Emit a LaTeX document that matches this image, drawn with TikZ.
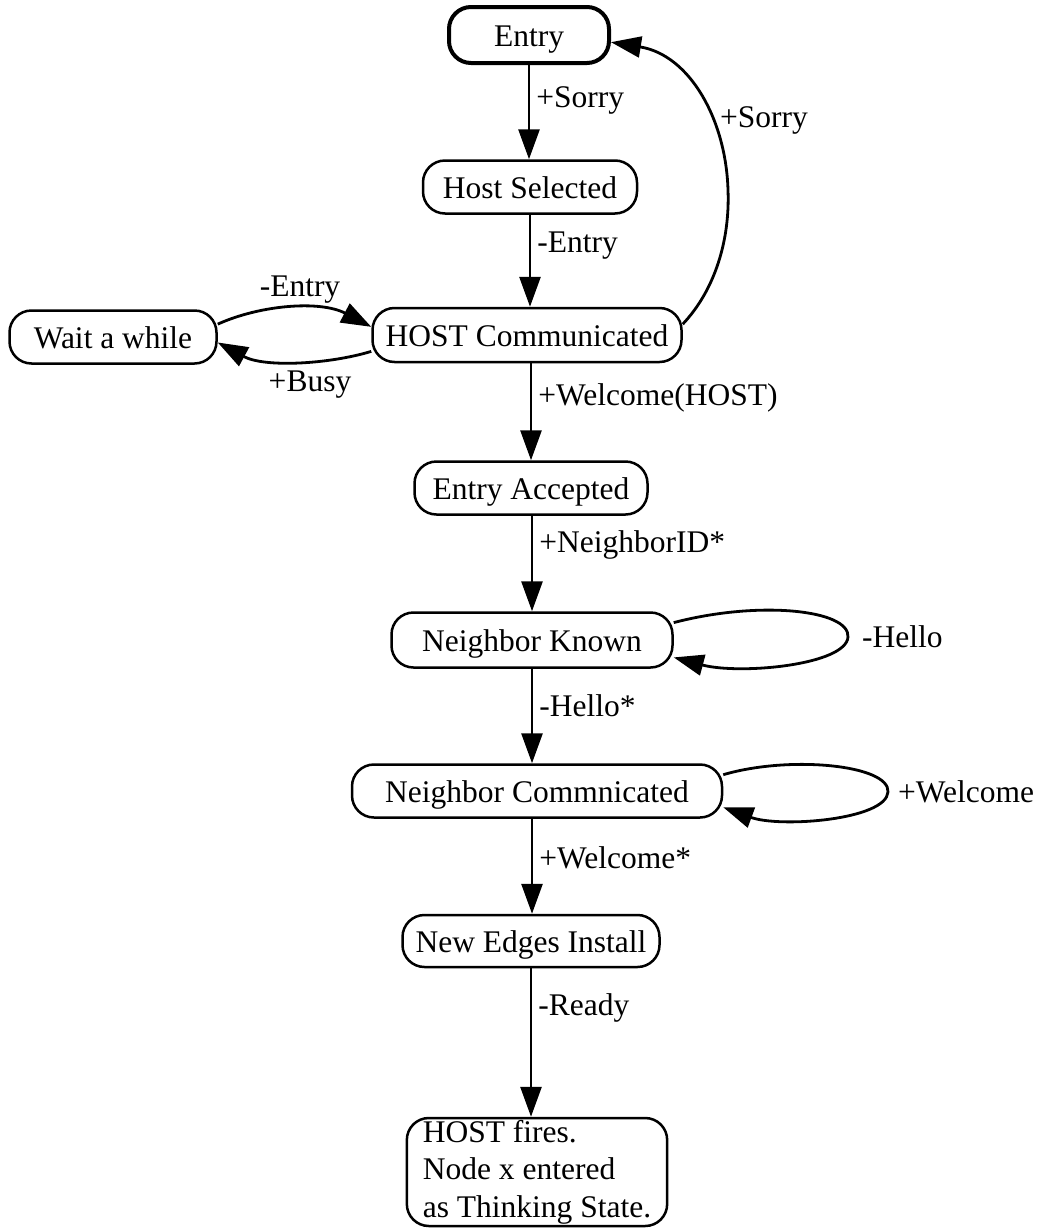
\documentclass[tikz,border=0pt]{standalone}
\usepackage{fontspec}
\setmainfont{Liberation Serif}
\usetikzlibrary{arrows.meta}

\tikzset{
  state/.style={draw, line width=2.5pt, rounded corners=22pt, inner sep=0pt,
    minimum height=54pt, text height=24pt, text depth=2pt,
    font=\fontsize{31.5}{37.5}\selectfont},
  arr/.style={line width=2.8pt, -{Triangle[length=30pt,width=21pt]}},
  lbl/.style={inner sep=0pt, font=\fontsize{31.5}{37.5}\selectfont},
  vlbl/.style={lbl, anchor=west, xshift=6pt}
}

\begin{document}
\begin{tikzpicture}[x=1pt, y=-1pt]
\path[use as bounding box] (0,0) rectangle (1047,1229);

% states
\node[state, line width=4pt, minimum width=160pt, minimum height=56pt] (entry) at (529,35) {Entry};
\node[state, minimum width=214pt, minimum height=53pt] (hostsel) at (530,187) {Host Selected};
\node[state, minimum width=309pt] (hostcomm) at (527,335) {HOST Communicated};
\node[state, minimum width=207pt, minimum height=53pt] (wait) at (113,337) {Wait a while};
\node[state, minimum width=233pt, minimum height=53pt] (accepted) at (531,488) {Entry Accepted};
\node[state, minimum width=281pt, minimum height=55pt] (nknown) at (532,640) {Neighbor Known};
\node[state, minimum width=370pt, minimum height=53pt] (ncomm) at (537,791) {Neighbor Commnicated};
\node[state, minimum width=257pt, minimum height=52pt] (newedges) at (531,941) {New Edges Install};
\node[draw, line width=2.5pt, rounded corners=22pt, font=\fontsize{31.5}{37.5}\selectfont,
  align=left, inner xsep=16pt, inner ysep=2pt, minimum height=108pt] (fires) at (537,1172)
  {HOST fires.\\Node x entered\\as Thinking State.};

% main column of transitions
\draw[arr] (entry.south) -- (entry.south |- hostsel.north)
  node[vlbl, pos=0.38] {+Sorry};
\draw[arr] (hostsel.south) -- (hostsel.south |- hostcomm.north)
  node[vlbl, pos=0.34] {-Entry};
\draw[arr] (hostcomm.south -| accepted.north) -- (accepted.north)
  node[vlbl, pos=0.36] {+Welcome(HOST)};
\draw[arr] (accepted.south -| nknown.north) -- (nknown.north)
  node[vlbl, pos=0.31] {+NeighborID*};
\draw[arr] (nknown.south) -- (nknown.south |- ncomm.north)
  node[vlbl, pos=0.39] {-Hello*};
\draw[arr] (ncomm.south -| nknown.south) -- (nknown.south |- newedges.north)
  node[vlbl, pos=0.41] {+Welcome*};
\draw[arr] (newedges.south) -- (newedges.south |- fires.north)
  node[vlbl, pos=0.27] {-Ready};

% back to the entry state
\draw[arr] (hostcomm.4.5) .. controls (715,290) and (730,240) .. (728,190)
  .. controls (726,120) and (690,55) .. (entry.-5);
\node[lbl, anchor=west] (sorrylbl) at (720,120) {+Sorry};

% waiting loop
\draw[arr] (wait.7.7) .. controls (260,305) and (320,300) .. (hostcomm.177);
\draw[arr] (hostcomm.186) .. controls (330,364) and (265,368) .. (wait.-3.3);
\node[lbl] (entrylbl) at (300,290) {-Entry};
\node[lbl] (busylbl) at (310,385) {+Busy};

% self loops
\draw[arr] (nknown.7.3) .. controls (760,600) and (850,610) .. (848,637)
  .. controls (846,665) and (740,675) .. (nknown.-7);
\node[lbl, anchor=west] (hellolbl) at (862,637) {-Hello};
\draw[arr] (ncomm.5) .. controls (790,755) and (890,765) .. (888,792)
  .. controls (886,820) and (780,828) .. (ncomm.-5);
\node[lbl, anchor=west] (welcomelbl) at (898,792) {+Welcome};
\end{tikzpicture}
\end{document}
